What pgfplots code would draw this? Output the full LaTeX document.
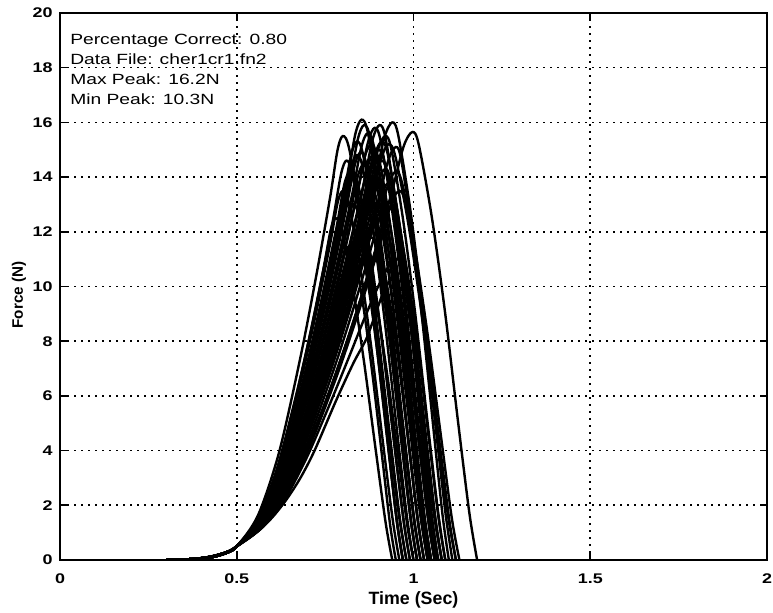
\documentclass[border=0pt]{standalone}
\usepackage{fontspec}
\setmainfont{Liberation Sans}
\newfontfamily\annofont{Liberation Sans}[FakeStretch=1.3]
\newfontfamily\tickfont{Liberation Sans}[FakeStretch=1.28]
\usepackage{pgfplots}
\pgfplotsset{compat=1.18}
\begin{document}
\begin{tikzpicture}
\begin{axis}[
  scale only axis, width=353.5pt, height=273.5pt,
  xmin=0, xmax=2, ymin=0, ymax=20,
  xtick={0,0.5,1,1.5,2}, ytick={0,2,4,6,8,10,12,14,16,18,20},
  grid=major,
  major grid style={black, line width=0.8pt, dash pattern=on 0.8pt off 2.7pt},
  axis line style={black, line width=0.9pt},
  tick style={black, line width=0.8pt},
  major tick length=3.5pt,
  tick align=inside,
  /pgf/number format/assume math mode=true,
  xticklabel style={font=\tickfont\fontsize{7}{8.4}\selectfont\bfseries, anchor=north, inner sep=0pt, yshift=-6.5pt},
  yticklabel style={font=\tickfont\fontsize{7}{8.4}\selectfont\bfseries, anchor=east, inner sep=0pt, xshift=-3.5pt},
  xlabel={Time (Sec)}, ylabel={Force (N)},
  xlabel style={font=\fontsize{8.9}{10}\selectfont\bfseries, at={(axis description cs:0.5,-0.0731)}, anchor=center},
  ylabel style={font=\fontsize{7.6}{9}\selectfont\bfseries, at={(axis description cs:-0.058,0.4845)}, anchor=center},
  cycle list={{black, solid, mark=none}},
  every axis plot post/.append style={black, solid, line width=1.2pt, mark=none, smooth, tension=0.5},
]
\coordinate (ll) at (rel axis cs:0,0);
\coordinate (ur) at (rel axis cs:1,1);
\addplot[black, line width=1.3pt] coordinates {(0,0)(2,0)};
% 1
\addplot coordinates {(0.3,0)(0.38,0.04)(0.43,0.13)(0.47,0.28)(0.5,0.5)(0.56,1.63)(0.62,3.95)(0.68,7.4)(0.725,10.4)(0.764,13.25)(0.785,14.98)(0.80,15.5)(0.818,15.04)(0.854,12.4)(0.89,8.99)(0.926,5.12)(0.958,1.71)(0.98,0)};
% 2
\addplot coordinates {(0.33,0)(0.41,0.06)(0.45,0.17)(0.48,0.31)(0.5,0.5)(0.571,1.67)(0.641,4.09)(0.712,7.68)(0.765,10.80)(0.811,13.76)(0.835,15.55)(0.853,16.1)(0.871,15.62)(0.906,12.88)(0.942,9.34)(0.977,5.31)(1.009,1.77)(1.03,0)};
% 3
\addplot coordinates {(0.3,0)(0.38,0.04)(0.43,0.13)(0.47,0.28)(0.5,0.5)(0.581,1.66)(0.662,4.04)(0.742,7.58)(0.803,10.66)(0.856,13.59)(0.884,15.36)(0.904,15.9)(0.921,15.42)(0.954,12.72)(0.987,9.22)(1.02,5.25)(1.05,1.75)(1.07,0)};
% 4
\addplot coordinates {(0.33,0)(0.41,0.06)(0.45,0.17)(0.48,0.31)(0.5,0.5)(0.588,1.66)(0.676,4.07)(0.764,7.63)(0.83,10.73)(0.887,13.68)(0.918,15.46)(0.94,16.0)(0.957,15.52)(0.991,12.8)(1.025,9.28)(1.059,5.28)(1.09,1.76)(1.11,0)};
% 5
\addplot coordinates {(0.3,0)(0.38,0.04)(0.43,0.13)(0.47,0.28)(0.5,0.5)(0.599,1.64)(0.699,3.98)(0.798,7.47)(0.873,10.50)(0.937,13.38)(0.972,15.12)(0.997,15.65)(1.015,15.18)(1.052,12.52)(1.089,9.08)(1.125,5.16)(1.158,1.72)(1.18,0)};
% 6
\addplot coordinates {(0.33,0)(0.41,0.06)(0.45,0.17)(0.48,0.31)(0.5,0.5)(0.574,1.63)(0.648,3.97)(0.722,7.45)(0.778,10.47)(0.826,13.34)(0.852,15.07)(0.87,15.6)(0.888,15.13)(0.924,12.48)(0.96,9.05)(0.996,5.15)(1.028,1.72)(1.05,0)};
% 7
\addplot coordinates {(0.3,0)(0.38,0.04)(0.43,0.13)(0.47,0.28)(0.5,0.5)(0.576,1.60)(0.652,3.88)(0.728,7.26)(0.785,10.20)(0.834,13.0)(0.861,14.69)(0.88,15.2)(0.896,14.74)(0.928,12.16)(0.96,8.82)(0.992,5.02)(1.021,1.67)(1.04,0)};
% 8
\addplot coordinates {(0.33,0)(0.41,0.06)(0.45,0.17)(0.48,0.31)(0.5,0.5)(0.584,1.63)(0.668,3.95)(0.752,7.4)(0.815,10.4)(0.870,13.25)(0.899,14.98)(0.92,15.5)(0.937,15.04)(0.971,12.4)(1.005,8.99)(1.039,5.12)(1.07,1.71)(1.09,0)};
% 9
\addplot coordinates {(0.3,0)(0.38,0.04)(0.43,0.13)(0.47,0.28)(0.5,0.5)(0.568,1.57)(0.636,3.79)(0.704,7.08)(0.755,9.94)(0.799,12.66)(0.823,14.30)(0.84,14.8)(0.856,14.36)(0.888,11.84)(0.92,8.58)(0.952,4.88)(0.981,1.63)(1.0,0)};
% 10
\addplot coordinates {(0.33,0)(0.41,0.06)(0.45,0.17)(0.48,0.31)(0.5,0.5)(0.564,1.53)(0.628,3.65)(0.692,6.80)(0.74,9.54)(0.782,12.15)(0.804,13.72)(0.82,14.2)(0.836,13.77)(0.868,11.36)(0.90,8.24)(0.932,4.69)(0.961,1.56)(0.98,0)};
% 11
\addplot coordinates {(0.3,0)(0.38,0.04)(0.43,0.13)(0.47,0.28)(0.5,0.5)(0.572,1.55)(0.644,3.72)(0.716,6.94)(0.77,9.74)(0.817,12.4)(0.842,14.01)(0.86,14.5)(0.876,14.07)(0.908,11.6)(0.94,8.41)(0.972,4.79)(1.001,1.60)(1.02,0)};
% 12
\addplot coordinates {(0.33,0)(0.41,0.06)(0.45,0.17)(0.48,0.31)(0.5,0.5)(0.578,1.51)(0.656,3.61)(0.734,6.71)(0.793,9.41)(0.843,11.98)(0.871,13.53)(0.89,14.0)(0.906,13.58)(0.938,11.2)(0.97,8.12)(1.002,4.62)(1.031,1.54)(1.05,0)};
% 13
\addplot coordinates {(0.3,0)(0.38,0.04)(0.43,0.13)(0.47,0.28)(0.5,0.5)(0.582,1.56)(0.664,3.74)(0.746,6.99)(0.808,9.81)(0.861,12.49)(0.890,14.11)(0.91,14.6)(0.925,14.16)(0.955,11.68)(0.985,8.47)(1.015,4.82)(1.042,1.61)(1.06,0)};
% 14
\addplot coordinates {(0.33,0)(0.41,0.06)(0.45,0.17)(0.48,0.31)(0.5,0.5)(0.586,1.50)(0.672,3.56)(0.758,6.62)(0.823,9.28)(0.878,11.81)(0.909,13.34)(0.93,13.8)(0.945,13.39)(0.975,11.04)(1.005,8.0)(1.035,4.55)(1.062,1.52)(1.08,0)};
% 15
\addplot coordinates {(0.3,0)(0.38,0.04)(0.43,0.13)(0.47,0.28)(0.5,0.5)(0.56,1.48)(0.62,3.49)(0.68,6.48)(0.725,9.08)(0.764,11.55)(0.785,13.05)(0.80,13.5)(0.816,13.1)(0.848,10.8)(0.88,7.83)(0.912,4.46)(0.941,1.49)(0.96,0)};
% 16
\addplot coordinates {(0.33,0)(0.41,0.06)(0.45,0.17)(0.48,0.31)(0.5,0.5)(0.566,1.44)(0.632,3.38)(0.698,6.25)(0.748,8.75)(0.79,11.13)(0.814,12.56)(0.83,13.0)(0.844,12.61)(0.872,10.4)(0.90,7.54)(0.928,4.29)(0.953,1.43)(0.97,0)};
% 17
\addplot coordinates {(0.3,0)(0.38,0.04)(0.43,0.13)(0.47,0.28)(0.5,0.5)(0.574,1.45)(0.648,3.42)(0.722,6.34)(0.778,8.88)(0.826,11.30)(0.852,12.76)(0.87,13.2)(0.884,12.8)(0.912,10.56)(0.94,7.66)(0.968,4.36)(0.993,1.45)(1.01,0)};
% 18
\addplot coordinates {(0.33,0)(0.41,0.06)(0.45,0.17)(0.48,0.31)(0.5,0.5)(0.58,1.42)(0.66,3.33)(0.74,6.16)(0.80,8.62)(0.852,10.96)(0.88,12.37)(0.90,12.8)(0.914,12.42)(0.942,10.24)(0.97,7.42)(0.998,4.22)(1.023,1.41)(1.04,0)};
% 19
\addplot coordinates {(0.3,0)(0.38,0.04)(0.43,0.13)(0.47,0.28)(0.5,0.5)(0.59,1.53)(0.68,3.65)(0.77,6.80)(0.838,9.54)(0.896,12.15)(0.928,13.72)(0.95,14.2)(0.968,13.77)(1.004,11.36)(1.04,8.24)(1.076,4.69)(1.108,1.56)(1.13,0)};
% 20
\addplot coordinates {(0.33,0)(0.41,0.06)(0.45,0.17)(0.48,0.31)(0.5,0.5)(0.57,1.38)(0.64,3.19)(0.71,5.88)(0.763,8.22)(0.808,10.45)(0.833,11.79)(0.85,12.2)(0.864,11.83)(0.892,9.76)(0.92,7.08)(0.948,4.03)(0.973,1.34)(0.99,0)};
% 21
\addplot coordinates {(0.3,0)(0.38,0.04)(0.43,0.13)(0.47,0.28)(0.5,0.5)(0.576,1.35)(0.652,3.10)(0.728,5.70)(0.785,7.96)(0.834,10.11)(0.861,11.40)(0.88,11.8)(0.894,11.45)(0.922,9.44)(0.95,6.84)(0.978,3.89)(1.003,1.30)(1.02,0)};
% 22
\addplot coordinates {(0.33,0)(0.41,0.06)(0.45,0.17)(0.48,0.31)(0.5,0.5)(0.584,1.36)(0.668,3.15)(0.752,5.79)(0.815,8.09)(0.870,10.28)(0.899,11.60)(0.92,12.0)(0.934,11.64)(0.962,9.6)(0.99,6.96)(1.018,3.96)(1.043,1.32)(1.06,0)};
% 23
\addplot coordinates {(0.3,0)(0.38,0.04)(0.43,0.13)(0.47,0.28)(0.5,0.5)(0.572,1.29)(0.644,2.92)(0.716,5.33)(0.77,7.43)(0.817,9.43)(0.842,10.63)(0.86,11.0)(0.874,10.67)(0.902,8.8)(0.93,6.38)(0.958,3.63)(0.983,1.21)(1.0,0)};
% 24 (low, straight rise)
\addplot coordinates {(0.33,0)(0.41,0.06)(0.45,0.17)(0.48,0.31)(0.5,0.5)(0.56,1.05)(0.6,1.55)(0.64,2.2)(0.68,3.0)(0.72,4.0)(0.78,5.8)(0.83,7.2)(0.867,8.1)(0.895,9.1)(0.915,9.8)(0.93,10.15)(0.942,10.3)(0.955,10.05)(0.972,8.6)(0.99,6.2)(1.01,3.5)(1.03,1.1)(1.045,0)};
% 25 (low, straight rise)
\addplot coordinates {(0.3,0)(0.38,0.04)(0.43,0.13)(0.47,0.28)(0.5,0.5)(0.55,0.95)(0.6,1.6)(0.64,2.3)(0.7,3.8)(0.76,5.6)(0.82,7.5)(0.86,8.8)(0.9,10.0)(0.93,10.75)(0.95,11.0)(0.965,10.75)(0.99,8.8)(1.01,6.3)(1.03,3.6)(1.05,1.2)(1.065,0)};
% 26
\addplot coordinates {(0.33,0)(0.41,0.06)(0.45,0.17)(0.48,0.31)(0.5,0.5)(0.556,1.4)(0.612,3.26)(0.668,6.02)(0.71,8.42)(0.746,10.7)(0.766,12.08)(0.78,12.5)(0.796,12.13)(0.828,10.0)(0.86,7.25)(0.892,4.13)(0.921,1.38)(0.94,0)};
% 27
\addplot coordinates {(0.3,0)(0.38,0.04)(0.43,0.13)(0.47,0.28)(0.5,0.5)(0.568,1.61)(0.636,3.90)(0.704,7.31)(0.755,10.27)(0.799,13.08)(0.823,14.78)(0.84,15.3)(0.857,14.84)(0.891,12.24)(0.925,8.87)(0.959,5.05)(0.99,1.68)(1.01,0)};
% 28
\addplot coordinates {(0.33,0)(0.41,0.06)(0.45,0.17)(0.48,0.31)(0.5,0.5)(0.578,1.65)(0.656,4.02)(0.734,7.54)(0.793,10.60)(0.843,13.51)(0.871,15.26)(0.89,15.8)(0.907,15.33)(0.941,12.64)(0.975,9.16)(1.009,5.21)(1.04,1.74)(1.06,0)};
% 29
\addplot coordinates {(0.3,0)(0.38,0.04)(0.43,0.13)(0.47,0.28)(0.5,0.5)(0.592,1.48)(0.684,3.49)(0.776,6.48)(0.845,9.08)(0.905,11.55)(0.937,13.05)(0.96,13.5)(0.976,13.1)(1.008,10.8)(1.04,7.83)(1.072,4.46)(1.101,1.49)(1.12,0)};
% 30
\addplot coordinates {(0.33,0)(0.41,0.06)(0.45,0.17)(0.48,0.31)(0.5,0.5)(0.564,1.33)(0.628,3.03)(0.692,5.56)(0.74,7.76)(0.782,9.85)(0.804,11.12)(0.82,11.5)(0.833,11.16)(0.859,9.2)(0.885,6.67)(0.911,3.80)(0.934,1.27)(0.95,0)};
% 31
\addplot coordinates {(0.3,0)(0.38,0.04)(0.43,0.13)(0.47,0.28)(0.5,0.5)(0.58,1.59)(0.66,3.84)(0.74,7.17)(0.80,10.07)(0.852,12.83)(0.88,14.49)(0.90,15.0)(0.918,14.55)(0.954,12.0)(0.99,8.7)(1.026,4.95)(1.058,1.65)(1.08,0)};
% 32
\addplot coordinates {(0.33,0)(0.41,0.06)(0.45,0.17)(0.48,0.31)(0.5,0.5)(0.586,1.60)(0.672,3.88)(0.758,7.26)(0.823,10.20)(0.878,13.0)(0.909,14.69)(0.93,15.2)(0.949,14.74)(0.987,12.16)(1.025,8.82)(1.063,5.02)(1.097,1.67)(1.12,0)};
% 33
\addplot coordinates {(0.3,0)(0.38,0.04)(0.43,0.13)(0.47,0.28)(0.5,0.5)(0.572,1.66)(0.644,4.04)(0.716,7.58)(0.77,10.66)(0.817,13.59)(0.842,15.36)(0.86,15.9)(0.878,15.42)(0.914,12.72)(0.95,9.22)(0.986,5.25)(1.018,1.75)(1.04,0)};
% 34
\addplot coordinates {(0.33,0)(0.41,0.06)(0.45,0.17)(0.48,0.31)(0.5,0.5)(0.582,1.61)(0.664,3.90)(0.746,7.31)(0.808,10.27)(0.861,13.08)(0.890,14.78)(0.91,15.3)(0.927,14.84)(0.961,12.24)(0.995,8.87)(1.029,5.05)(1.06,1.68)(1.08,0)};
% 35
\addplot coordinates {(0.3,0)(0.38,0.04)(0.43,0.13)(0.47,0.28)(0.5,0.5)(0.566,1.51)(0.632,3.61)(0.698,6.71)(0.748,9.41)(0.79,11.98)(0.814,13.53)(0.83,14.0)(0.846,13.58)(0.878,11.2)(0.91,8.12)(0.942,4.62)(0.971,1.54)(0.99,0)};
% 36
\addplot coordinates {(0.33,0)(0.41,0.06)(0.45,0.17)(0.48,0.31)(0.5,0.5)(0.576,1.48)(0.652,3.51)(0.728,6.53)(0.785,9.15)(0.834,11.64)(0.861,13.14)(0.88,13.6)(0.895,13.19)(0.925,10.88)(0.955,7.89)(0.985,4.49)(1.012,1.50)(1.03,0)};
% 37
\addplot coordinates {(0.3,0)(0.38,0.04)(0.43,0.13)(0.47,0.28)(0.5,0.5)(0.584,1.54)(0.668,3.67)(0.752,6.85)(0.815,9.61)(0.870,12.23)(0.899,13.82)(0.92,14.3)(0.935,13.87)(0.965,11.44)(0.995,8.29)(1.025,4.72)(1.052,1.57)(1.07,0)};
% 38
\addplot coordinates {(0.33,0)(0.41,0.06)(0.45,0.17)(0.48,0.31)(0.5,0.5)(0.57,1.58)(0.64,3.81)(0.71,7.12)(0.763,10.0)(0.808,12.74)(0.833,14.40)(0.85,14.9)(0.867,14.45)(0.901,11.92)(0.935,8.64)(0.969,4.92)(1.0,1.64)(1.02,0)};
% 39
\addplot coordinates {(0.3,0)(0.38,0.04)(0.43,0.13)(0.47,0.28)(0.5,0.5)(0.58,1.51)(0.66,3.58)(0.74,6.66)(0.80,9.34)(0.852,11.89)(0.88,13.43)(0.90,13.9)(0.916,13.48)(0.948,11.12)(0.98,8.06)(1.012,4.59)(1.041,1.53)(1.06,0)};
% 40
\addplot coordinates {(0.33,0)(0.41,0.06)(0.45,0.17)(0.48,0.31)(0.5,0.5)(0.574,1.4)(0.648,3.26)(0.722,6.02)(0.778,8.42)(0.826,10.7)(0.852,12.08)(0.87,12.5)(0.884,12.13)(0.912,10.0)(0.94,7.25)(0.968,4.13)(0.993,1.38)(1.01,0)};
% 41
\addplot coordinates {(0.3,0)(0.38,0.04)(0.43,0.13)(0.47,0.28)(0.5,0.5)(0.588,1.43)(0.676,3.35)(0.764,6.20)(0.83,8.68)(0.887,11.04)(0.918,12.47)(0.94,12.9)(0.955,12.51)(0.985,10.32)(1.015,7.48)(1.045,4.26)(1.072,1.42)(1.09,0)};
% 42
\addplot coordinates {(0.33,0)(0.41,0.06)(0.45,0.17)(0.48,0.31)(0.5,0.5)(0.562,1.56)(0.624,3.74)(0.686,6.99)(0.733,9.81)(0.773,12.49)(0.795,14.11)(0.81,14.6)(0.826,14.16)(0.858,11.68)(0.89,8.47)(0.922,4.82)(0.951,1.61)(0.97,0)};
% 43
\addplot coordinates {(0.3,0)(0.38,0.04)(0.43,0.13)(0.47,0.28)(0.5,0.5)(0.578,1.58)(0.656,3.81)(0.734,7.12)(0.793,10.0)(0.843,12.74)(0.871,14.40)(0.89,14.9)(0.906,14.45)(0.938,11.92)(0.97,8.64)(1.002,4.92)(1.031,1.64)(1.05,0)};
% 44
\addplot coordinates {(0.33,0)(0.41,0.06)(0.45,0.17)(0.48,0.31)(0.5,0.5)(0.59,1.60)(0.68,3.86)(0.77,7.22)(0.838,10.14)(0.896,12.91)(0.928,14.59)(0.95,15.1)(0.965,14.65)(0.995,12.08)(1.025,8.76)(1.055,4.98)(1.082,1.66)(1.10,0)};
% 45
\addplot coordinates {(0.3,0)(0.38,0.04)(0.43,0.13)(0.47,0.28)(0.5,0.5)(0.568,1.35)(0.636,3.10)(0.704,5.70)(0.755,7.96)(0.799,10.11)(0.823,11.40)(0.84,11.8)(0.853,11.45)(0.879,9.44)(0.905,6.84)(0.931,3.89)(0.954,1.30)(0.97,0)};
% 46
\addplot coordinates {(0.33,0)(0.41,0.06)(0.45,0.17)(0.48,0.31)(0.5,0.5)(0.58,1.30)(0.66,2.96)(0.74,5.42)(0.80,7.56)(0.852,9.60)(0.88,10.83)(0.90,11.2)(0.913,10.86)(0.939,8.96)(0.965,6.50)(0.991,3.70)(1.014,1.23)(1.03,0)};
\node[anchor=base west, inner sep=0pt, font=\annofont\fontsize{7.4}{8.8}\selectfont] at (axis cs:0.028,18.83) {Percentage Correct: 0.80};
\node[anchor=base west, inner sep=0pt, font=\annofont\fontsize{7.4}{8.8}\selectfont] at (axis cs:0.028,18.10) {Data File: cher1cr1.fn2};
\node[anchor=base west, inner sep=0pt, font=\annofont\fontsize{7.4}{8.8}\selectfont] at (axis cs:0.028,17.37) {Max Peak: 16.2N};
\node[anchor=base west, inner sep=0pt, font=\annofont\fontsize{7.4}{8.8}\selectfont] at (axis cs:0.028,16.65) {Min Peak: 10.3N};
\end{axis}
\pgfresetboundingbox
\path ([shift={(-30pt,-26.5pt)}]ll) rectangle ([shift={(3pt,6.5pt)}]ur);
\end{tikzpicture}
\end{document}
